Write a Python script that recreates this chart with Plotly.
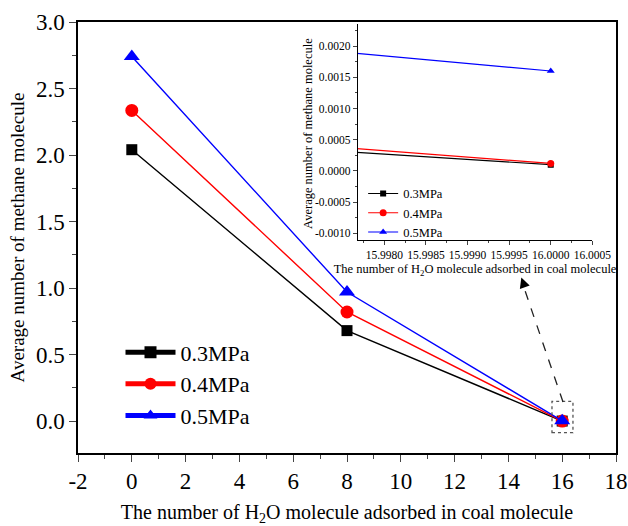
import plotly.graph_objects as go

x_vals = [0, 8, 16]
series_names = ["0.3MPa", "0.4MPa", "0.5MPa"]
y_03 = [2.04, 0.68, 0.0001]
y_04 = [2.335, 0.82, 0.00012]
y_05 = [2.74, 0.97, 0.0016]

x_tickvals = [-2, 0, 2, 4, 6, 8, 10, 12, 14, 16, 18]
x_ticktext = ["-2", "0", "2", "4", "6", "8", "10", "12", "14", "16", "18"]
inset_y_tickvals = [-0.001, -0.0005, 0.0, 0.0005, 0.001, 0.0015, 0.002]
inset_y_ticktext = ["-0.0010", "-0.0005", "0.0000", "0.0005", "0.0010", "0.0015", "0.0020"]

colors = ["black", "red", "blue"]
symbols = ["square", "circle", "triangle-up"]
msizes = [11, 13, 14]
msizes_in = [6, 7, 7]
series = [y_03, y_04, y_05]

FONT = "Times New Roman, Tinos, Nimbus Roman, Liberation Serif"

fig = go.Figure()
for name, ys, c, s, ms in zip(series_names, series, colors, symbols, msizes):
    fig.add_trace(go.Scatter(x=x_vals, y=ys, name=name, mode="lines+markers",
                             line=dict(color=c, width=1.4),
                             marker=dict(symbol=s, size=ms, color=c),
                             legend="legend", xaxis="x", yaxis="y"))
for name, ys, c, s, ms in zip(series_names, series, colors, symbols, msizes_in):
    fig.add_trace(go.Scatter(x=x_vals, y=ys, name=name, mode="lines+markers",
                             line=dict(color=c, width=1.2),
                             marker=dict(symbol=s, size=ms, color=c),
                             legend="legend2", xaxis="x2", yaxis="y2"))

axis_font = dict(family=FONT, size=23, color="black")
fig.update_layout(
    width=628, height=526,
    margin=dict(l=78, r=12, t=22, b=73, autoexpand=False),
    paper_bgcolor="white", plot_bgcolor="white",
    font=dict(family=FONT, color="black"),
    xaxis=dict(range=[-2, 18], tickvals=x_tickvals, ticktext=x_ticktext, automargin=False,
               ticks="outside", ticklen=7, tickwidth=1.3,
               minor=dict(dtick=1, tick0=0, ticks="outside", ticklen=4, tickwidth=1.3),
               showline=True, linewidth=1.5, linecolor="black", mirror=True,
               showgrid=False, zeroline=False, tickfont=axis_font,
               title=dict(text="The number of H<sub>2</sub>O molecule adsorbed in coal molecule",
                          font=dict(family=FONT, size=20), standoff=14)),
    yaxis=dict(range=[-0.24, 3.0], dtick=0.5, tick0=0, tickformat=".1f", ticks="outside",
               ticklen=7, tickwidth=1.3, automargin=False,
               minor=dict(dtick=0.25, ticks="outside", ticklen=4, tickwidth=1.3),
               showline=True, linewidth=1.5, linecolor="black", mirror=True,
               showgrid=False, zeroline=False, tickfont=axis_font,
               title=dict(text="Average number of methane molecule",
                          font=dict(family=FONT, size=19), standoff=6)),
    xaxis2=dict(domain=[0.52, 0.956], anchor="y2", range=[15.99768, 16.0005], automargin=False,
                dtick=0.0005, tick0=16, tickformat=".4f", ticks="outside", ticklen=4,
                minor=dict(dtick=0.00025, ticks="outside", ticklen=2),
                showline=True, linewidth=1, linecolor="black", showgrid=False, zeroline=False,
                tickfont=dict(family=FONT, size=11.5),
                title=dict(text="The number of H<sub>2</sub>O molecule adsorbed in coal molecule",
                           font=dict(family=FONT, size=12.5), standoff=4)),
    yaxis2=dict(domain=[0.4935, 0.995], anchor="x2", range=[-0.00111, 0.00235], automargin=False,
                tickvals=inset_y_tickvals, ticktext=inset_y_ticktext,
                ticks="outside", ticklen=4,
                minor=dict(dtick=0.00025, ticks="outside", ticklen=2),
                showline=True, linewidth=1, linecolor="black", showgrid=False, zeroline=False,
                tickfont=dict(family=FONT, size=11.5)),
    legend=dict(x=0.079, y=0.282, xanchor="left", yanchor="top",
                font=dict(family=FONT, size=22), bgcolor="rgba(0,0,0,0)",
                tracegroupgap=0, itemsizing="constant", itemwidth=50),
    legend2=dict(x=0.53, y=0.636, xanchor="left", yanchor="top",
                 font=dict(family=FONT, size=12.5), bgcolor="rgba(0,0,0,0)",
                 tracegroupgap=0),
)

# inset y-axis title placed as rotated text
fig.add_annotation(text="Average number of methane molecule", x=0.427, y=0.742,
                   xref="paper", yref="paper", xanchor="center", yanchor="middle",
                   textangle=-90, showarrow=False,
                   font=dict(family=FONT, size=12.5, color="black"))

# dashed box around the zoomed region
fig.add_shape(type="rect", x0=15.62, x1=16.40, y0=-0.087, y1=0.148, xref="x", yref="y",
              line=dict(color="#555555", width=1.3, dash="dot"))
# dashed arrow to inset
fig.add_shape(type="line", x0=16.03, y0=0.143, x1=14.5, y1=1.05, xref="x", yref="y",
              line=dict(color="#222222", width=1.3, dash="dash"))
fig.add_annotation(x=14.48, y=1.08, ax=14.62, ay=1.0, xref="x", yref="y", axref="x", ayref="y",
                   showarrow=True, arrowhead=2, arrowsize=1.6, arrowwidth=1.3,
                   arrowcolor="black", text="")

fig.write_html("out.html")
